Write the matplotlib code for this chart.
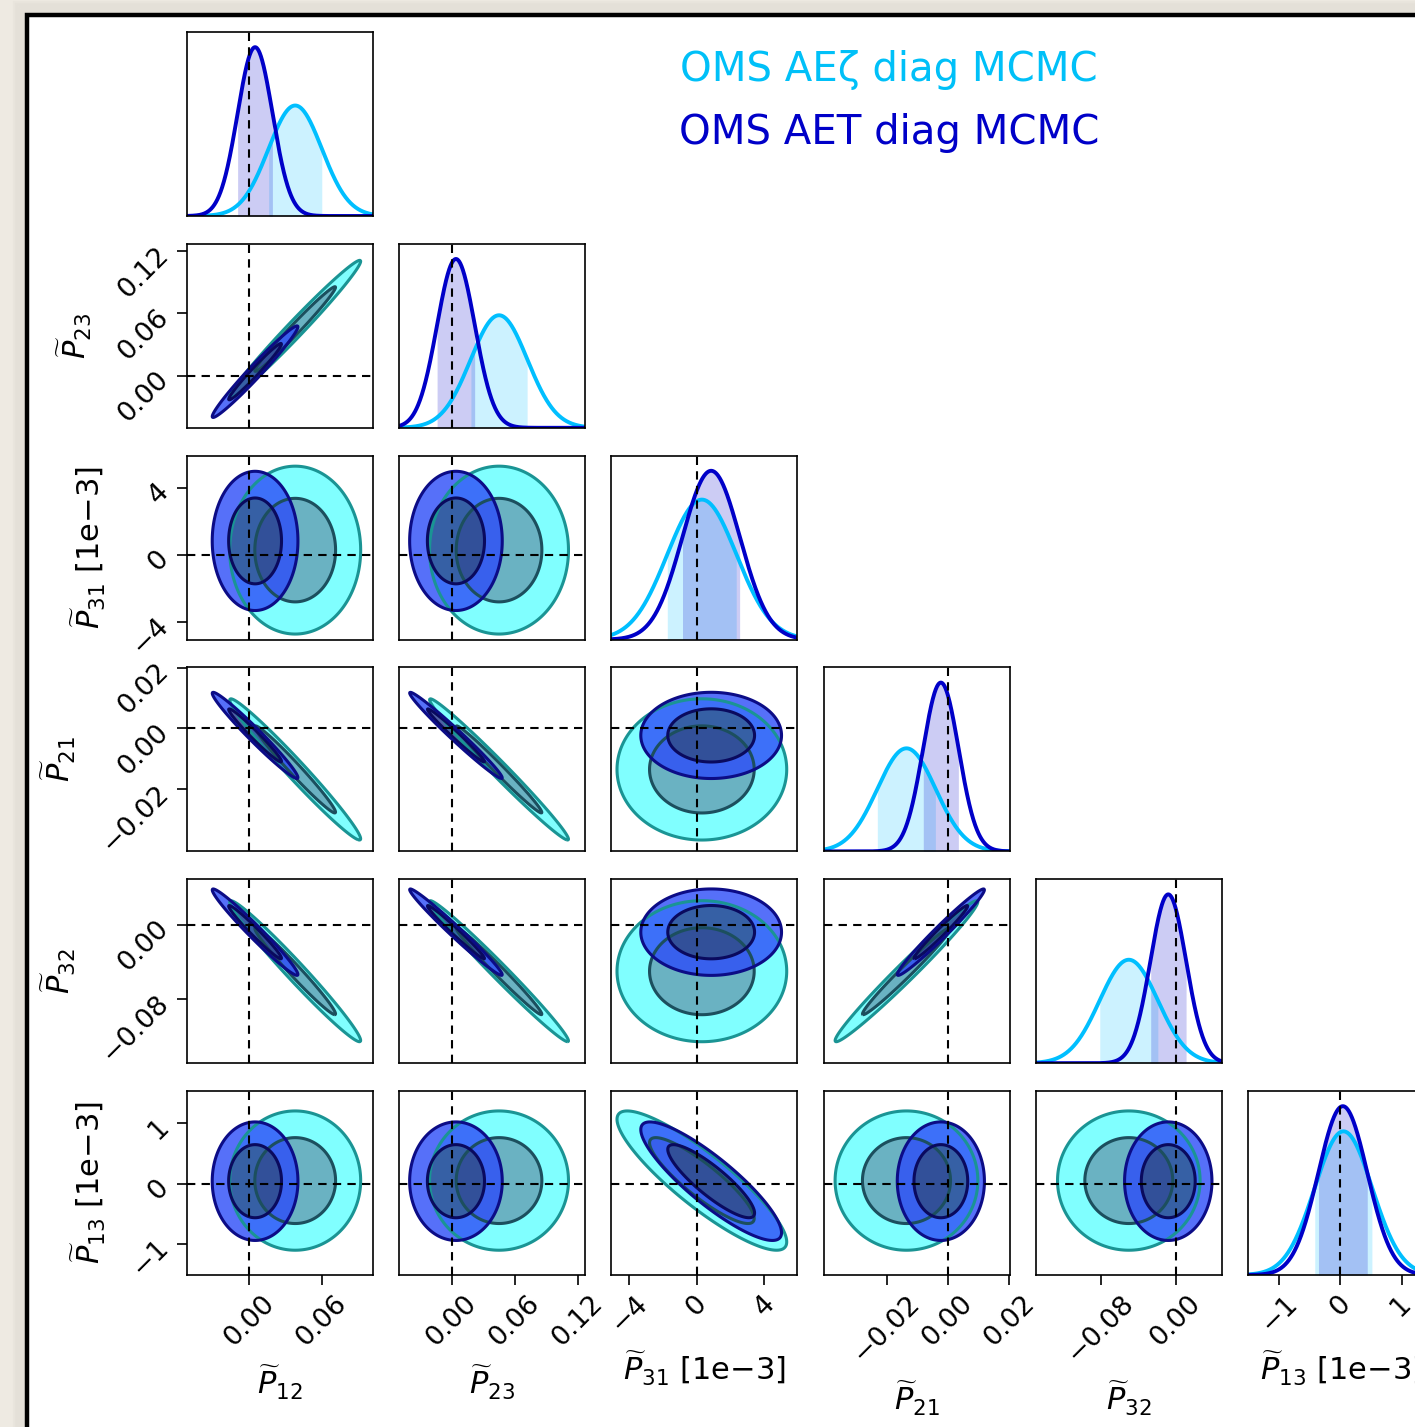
import numpy as np
import matplotlib.pyplot as plt
from matplotlib.patches import Rectangle

# parameter labels, axis ranges and ticks
labels = [r'$\widetilde{P}_{12}$', r'$\widetilde{P}_{23}$', r'$\widetilde{P}_{31}$ [1e$-$3]',
          r'$\widetilde{P}_{21}$', r'$\widetilde{P}_{32}$', r'$\widetilde{P}_{13}$ [1e$-$3]']
truth = [0.0, 0.0, 0.0, 0.0, 0.0, 0.0]
limits = [(-0.051, 0.102), (-0.050, 0.127), (-5.05, 5.95),
          (-0.0405, 0.0201), (-0.149, 0.049), (-1.51, 1.53)]
ticks = [[0.0, 0.06], [0.0, 0.06, 0.12], [-4, 0, 4],
         [-0.02, 0.0, 0.02], [-0.08, 0.0], [-1, 0, 1]]
tick_labels = [['0.00', '0.06'], ['0.00', '0.06', '0.12'], ['\u22124', '0', '4'],
               ['\u22120.02', '0.00', '0.02'], ['\u22120.08', '0.00'], ['\u22121', '0', '1']]

# posterior summaries: AEzeta chain
zeta_mean = [0.038, 0.045, 0.30, -0.0135, -0.050, 0.05]
zeta_sigma = [0.022, 0.027, 2.05, 0.0095, 0.031, 0.47]
zeta_corr = [[1.000, 0.986, 0.00, -0.982, -0.982, 0.00],
             [0.986, 1.000, 0.00, -0.988, -0.988, 0.00],
             [0.00, 0.00, 1.000, 0.00, 0.00, -0.88],
             [-0.982, -0.988, 0.00, 1.000, 0.984, 0.00],
             [-0.982, -0.988, 0.00, 0.984, 1.000, 0.00],
             [0.00, 0.00, -0.88, 0.00, 0.00, 1.000]]

# posterior summaries: AET chain
aet_mean = [0.005, 0.004, 0.85, -0.0023, -0.008, 0.04]
aet_sigma = [0.0144, 0.018, 1.70, 0.0058, 0.019, 0.40]
aet_corr = [[1.000, 0.980, 0.00, -0.978, -0.978, 0.00],
            [0.980, 1.000, 0.00, -0.985, -0.985, 0.00],
            [0.00, 0.00, 1.000, 0.00, 0.00, -0.87],
            [-0.978, -0.985, 0.00, 1.000, 0.980, 0.00],
            [-0.978, -0.985, 0.00, 0.980, 1.000, 0.00],
            [0.00, 0.00, -0.87, 0.00, 0.00, 1.000]]

levels_mass = [0.68, 0.95]

chains = [
    dict(name='OMS AE\u03b6 diag MCMC', mean=zeta_mean, sigma=zeta_sigma, corr=zeta_corr,
         line='#00bfff', text='#00c0f8', fills=['#6ab2c2', '#80ffff'],
         edges=['#1c4f5e', '#1a9494'], alpha=1.0),
    dict(name='OMS AET diag MCMC', mean=aet_mean, sigma=aet_sigma, corr=aet_corr,
         line='#0000c8', text='#0000c8', fills=['#24388f', '#2c4cf8'],
         edges=['#0a0a5e', '#0c0c86'], alpha=0.8),
]

W, H = 1415, 1427
fig = plt.figure(figsize=(W / 100, H / 100), dpi=100, facecolor='#eeeae2')

# white panel with black frame, running off the right and bottom edges
for k in range(6):
    fig.add_artist(Rectangle(((25 - 2 * k) / W, -0.1), 1.2, 1.1 - (13 - 2 * k) / H,
                             transform=fig.transFigure, fc='none', ec='#b9b4aa',
                             lw=3, alpha=0.08, zorder=-6))
fig.add_artist(Rectangle((27 / W, -0.1), 1.2, 1.1 - 15 / H, transform=fig.transFigure,
                         fc='white', ec='black', lw=3.2, zorder=-5))

n = len(labels)
left0, dx, aw = 187, 212.2, 186
top0, dy, ah = 32, 211.8, 184
r_levels = [np.sqrt(-2 * np.log(1 - p)) for p in levels_mass]


def setup_ticks(ax, i, j):
    ax.tick_params(direction='out', length=7, width=1.2, labelsize=19.5, pad=4,
                   top=False, right=False)
    ax.tick_params(axis='y', pad=9)
    if i == n - 1:
        ax.set_xticks(ticks[j])
        ax.set_xticklabels(tick_labels[j], rotation=45)
        ax.set_xlabel(labels[j], fontsize=22, labelpad=9)
    else:
        ax.set_xticks([])
    if j == 0 and i > 0:
        ax.set_yticks(ticks[i])
        ax.set_yticklabels(tick_labels[i])
        for t in ax.get_yticklabels():
            t.set_rotation(45)
            t.set_rotation_mode('anchor')
            t.set_ha('right')
            t.set_va('center')
        ax.set_ylabel(labels[i], fontsize=22, labelpad=14)
    else:
        ax.set_yticks([])


for i in range(n):
    for j in range(i + 1):
        x0 = left0 + j * dx
        y0 = top0 + i * dy
        ax = fig.add_axes([x0 / W, 1 - (y0 + ah) / H, aw / W, ah / H])
        for sp in ax.spines.values():
            sp.set_linewidth(1.2)
        if i == j:
            xs = np.linspace(limits[j][0], limits[j][1], 600)
            peak = 0
            for c in chains:
                m, s = c['mean'][j], c['sigma'][j]
                pdf = np.exp(-0.5 * ((xs - m) / s) ** 2) / (s * np.sqrt(2 * np.pi))
                peak = max(peak, pdf.max())
                inside = (xs >= m - s) & (xs <= m + s)
                ax.fill_between(xs[inside], 0, pdf[inside], color=c['line'], alpha=0.2, lw=0)
                ax.plot(xs, pdf, color=c['line'], lw=2.8)
            ax.set_ylim(0, 1.09 * peak)
            ax.axvline(truth[j], color='black', ls=(0, (4, 3)), lw=1.5)
        else:
            gx = np.linspace(limits[j][0], limits[j][1], 300)
            gy = np.linspace(limits[i][0], limits[i][1], 300)
            X, Y = np.meshgrid(gx, gy)
            grids = []
            for c in chains:
                mx, my = c['mean'][j], c['mean'][i]
                sx, sy = c['sigma'][j], c['sigma'][i]
                rho = c['corr'][i][j]
                u, v = (X - mx) / sx, (Y - my) / sy
                d2 = (u ** 2 - 2 * rho * u * v + v ** 2) / (1 - rho ** 2)
                grids.append(d2)
                ax.contourf(X, Y, d2, levels=[0, r_levels[0] ** 2, r_levels[1] ** 2],
                            colors=c['fills'], alpha=c['alpha'])
            for c, d2 in zip(chains, grids):
                ax.contour(X, Y, d2, levels=[r_levels[0] ** 2, r_levels[1] ** 2],
                           colors=c['edges'], linewidths=2.2)
            ax.axvline(truth[j], color='black', ls=(0, (4, 3)), lw=1.5)
            ax.axhline(truth[i], color='black', ls=(0, (4, 3)), lw=1.5)
            ax.set_ylim(limits[i])
        ax.set_xlim(limits[j])
        setup_ticks(ax, i, j)

# legend as coloured text
for k, c in enumerate(chains):
    fig.text(889 / W, 1 - (70 + 63 * k) / H, c['name'], color=c['text'],
             fontsize=29, ha='center', va='center')

fig.savefig('out.png', dpi=100, facecolor=fig.get_facecolor())
